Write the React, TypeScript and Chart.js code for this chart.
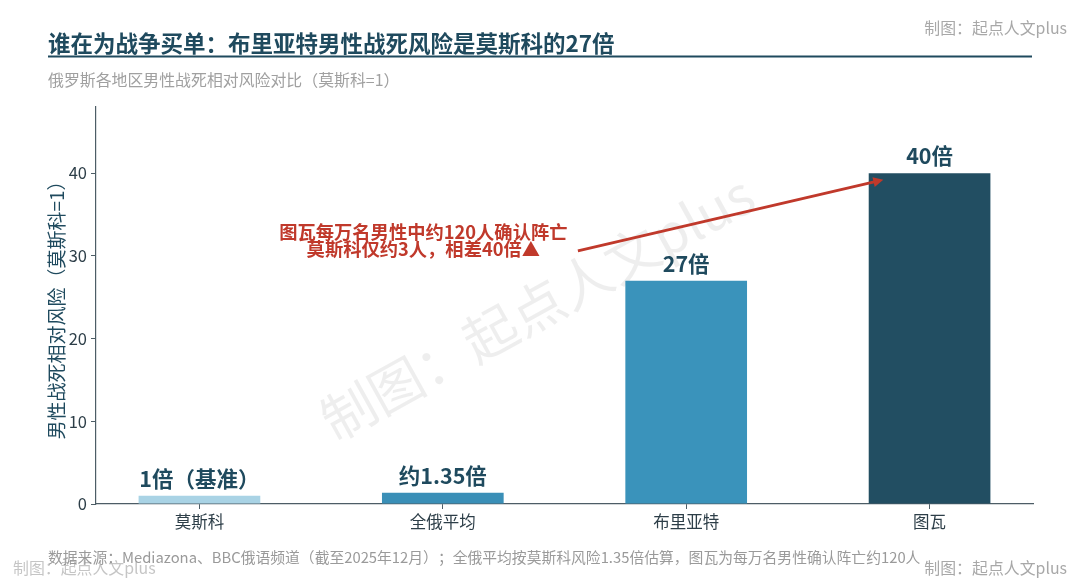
import React, { useEffect, useRef } from "react";
import { Chart, registerables } from "chart.js";

Chart.register(...registerables);

const categories = ["莫斯科", "全俄平均", "布里亚特", "图瓦"];
const riskValues = [1, 1.35, 27, 40];
const valueLabels = ["1倍（基准）", "约1.35倍", "27倍", "40倍"];
const barColors = ["#a9d3e5", "#3a8fb7", "#3a93bb", "#224e62"];
const yTicks = [0, 10, 20, 30, 40];

const TITLE = "谁在为战争买单：布里亚特男性战死风险是莫斯科的27倍";
const SUBTITLE = "俄罗斯各地区男性战死相对风险对比（莫斯科=1）";
const SOURCE = "数据来源：Mediazona、BBC俄语频道（截至2025年12月）；全俄平均按莫斯科风险1.35倍估算，图瓦为每万名男性确认阵亡约120人";
const CREDIT = "制图：起点人文plus";
const Y_TITLE = "男性战死相对风险（莫斯科=1）";
const NOTE_LINES = ["图瓦每万名男性中约120人确认阵亡", "莫斯科仅约3人，相差40倍▲"];
// annotation anchor in data units: [x, y]
const noteAt = [0.92, 31.8];
const arrowFrom = [1.555, 30.6];
const arrowTo = [2.81, 39.2];

const FONT = "'Noto Sans CJK SC', 'Noto Sans', sans-serif";
const DARK = "#1f4a5e";
const GREY = "#a0a0a0";
const RED = "#c0392b";

const decorPlugin = {
  id: "decor",
  beforeDraw(chart: any) {
    const ctx = chart.ctx;
    ctx.save();
    ctx.fillStyle = "#ffffff";
    ctx.fillRect(0, 0, chart.width, chart.height);
    // diagonal watermark
    ctx.translate(537, 307);
    ctx.rotate((-29 * Math.PI) / 180);
    ctx.font = `54px ${FONT}`;
    ctx.fillStyle = "rgba(0,0,0,0.065)";
    ctx.textAlign = "center";
    ctx.textBaseline = "middle";
    ctx.fillText(CREDIT, 0, 0);
    ctx.restore();
  },
  afterDraw(chart: any) {
    const ctx = chart.ctx;
    const xs = chart.scales.x;
    const ys = chart.scales.y;
    ctx.save();
    // title
    ctx.textBaseline = "alphabetic";
    ctx.textAlign = "left";
    ctx.fillStyle = DARK;
    ctx.font = `bold 22.5px ${FONT}`;
    ctx.fillText(TITLE, 48, 52);
    ctx.strokeStyle = DARK;
    ctx.lineWidth = 2;
    ctx.beginPath();
    ctx.moveTo(48, 56.5);
    ctx.lineTo(1032, 56.5);
    ctx.stroke();
    // subtitle
    ctx.textBaseline = "middle";
    ctx.fillStyle = GREY;
    ctx.font = `15.9px ${FONT}`;
    ctx.fillText(SUBTITLE, 48, 80);
    // source
    ctx.font = `14.8px ${FONT}`;
    ctx.fillStyle = "#9a9a9a";
    ctx.fillText(SOURCE, 48, 557);
    // credits
    ctx.font = `15.9px ${FONT}`;
    ctx.fillStyle = "#a8a8a8";
    ctx.textAlign = "right";
    ctx.fillText(CREDIT, 1067, 28);
    ctx.fillText(CREDIT, 1067, 568);
    ctx.textAlign = "left";
    ctx.fillStyle = "rgba(150,150,150,0.55)";
    ctx.fillText(CREDIT, 13, 568);

    // value labels
    ctx.textAlign = "center";
    ctx.textBaseline = "alphabetic";
    ctx.fillStyle = DARK;
    ctx.font = `bold 21.5px ${FONT}`;
    riskValues.forEach((v, i) => {
      ctx.fillText(valueLabels[i], xs.getPixelForValue(i), ys.getPixelForValue(v) - 9);
    });

    // annotation text
    ctx.fillStyle = RED;
    ctx.font = `bold 18.3px ${FONT}`;
    ctx.textBaseline = "middle";
    const nx = xs.getPixelForValue(noteAt[0]);
    const ny = ys.getPixelForValue(noteAt[1]);
    ctx.fillText(NOTE_LINES[0], nx, ny - 8.5);
    ctx.fillText(NOTE_LINES[1], nx, ny + 8.5);

    // arrow
    const x1 = xs.getPixelForValue(arrowFrom[0]);
    const y1 = ys.getPixelForValue(arrowFrom[1]);
    const x2 = xs.getPixelForValue(arrowTo[0]);
    const y2 = ys.getPixelForValue(arrowTo[1]);
    const ang = Math.atan2(y2 - y1, x2 - x1);
    ctx.strokeStyle = RED;
    ctx.lineWidth = 3;
    ctx.beginPath();
    ctx.moveTo(x1, y1);
    ctx.lineTo(x2 - 6 * Math.cos(ang), y2 - 6 * Math.sin(ang));
    ctx.stroke();
    ctx.beginPath();
    ctx.moveTo(x2, y2);
    ctx.lineTo(x2 - 10 * Math.cos(ang) + 5 * Math.sin(ang), y2 - 10 * Math.sin(ang) - 5 * Math.cos(ang));
    ctx.lineTo(x2 - 10 * Math.cos(ang) - 5 * Math.sin(ang), y2 - 10 * Math.sin(ang) + 5 * Math.cos(ang));
    ctx.closePath();
    ctx.fillStyle = RED;
    ctx.fill();
    ctx.restore();
  },
};

export default function App() {
  const ref = useRef<HTMLCanvasElement | null>(null);
  useEffect(() => {
    if (!ref.current) return;
    const chart = new Chart(ref.current, {
      type: "bar",
      data: {
        datasets: [
          {
            data: riskValues.map((v, i) => ({ x: i, y: v })),
            backgroundColor: barColors,
            borderWidth: 0,
            categoryPercentage: 1,
            barPercentage: 0.5,
          },
        ],
      },
      plugins: [decorPlugin],
      options: {
        animation: false,
        responsive: false,
        devicePixelRatio: 1,
        layout: { padding: { top: 107, right: 47, left: 0, bottom: 0 } },
        plugins: { legend: { display: false }, tooltip: { enabled: false } },
        scales: {
          x: {
            type: "linear",
            min: -0.425,
            max: 3.425,
            offset: false,
            afterBuildTicks: (s: any) => {
              s.ticks = categories.map((_, i) => ({ value: i }));
            },
            afterFit: (s: any) => {
              s.height = 80;
            },
            ticks: {
              callback: (v: any) => categories[v] ?? "",
              color: "#2d3e48",
              font: { family: FONT, size: 16.5 },
              padding: 3,
              autoSkip: false,
              maxRotation: 0,
            },
            grid: { display: true, offset: false, drawOnChartArea: false, drawTicks: true, tickLength: 5, color: "#4d5d66" },
            border: { color: "#4d5d66", width: 1.2 },
          },
          y: {
            min: 0,
            max: 48,
            afterBuildTicks: (s: any) => {
              s.ticks = yTicks.map((v) => ({ value: v }));
            },
            afterFit: (s: any) => {
              s.width = 96;
            },
            ticks: {
              color: "#2d3e48",
              font: { family: FONT, size: 16.5 },
              padding: 4,
            },
            grid: { display: true, drawOnChartArea: false, drawTicks: true, tickLength: 5, color: "#4d5d66" },
            border: { color: "#4d5d66", width: 1.2 },
            title: {
              display: true,
              text: Y_TITLE,
              color: DARK,
              font: { family: FONT, size: 19 },
              padding: { top: 45, bottom: 0 },
            },
          },
        },
      },
    } as any);
    return () => chart.destroy();
  }, []);
  return (
    <div style={{ position: "fixed", left: 0, top: 0, width: 1080, height: 584, background: "#fff" }}>
      <canvas ref={ref} width={1080} height={584} style={{ width: 1080, height: 584, display: "block" }} />
    </div>
  );
}
